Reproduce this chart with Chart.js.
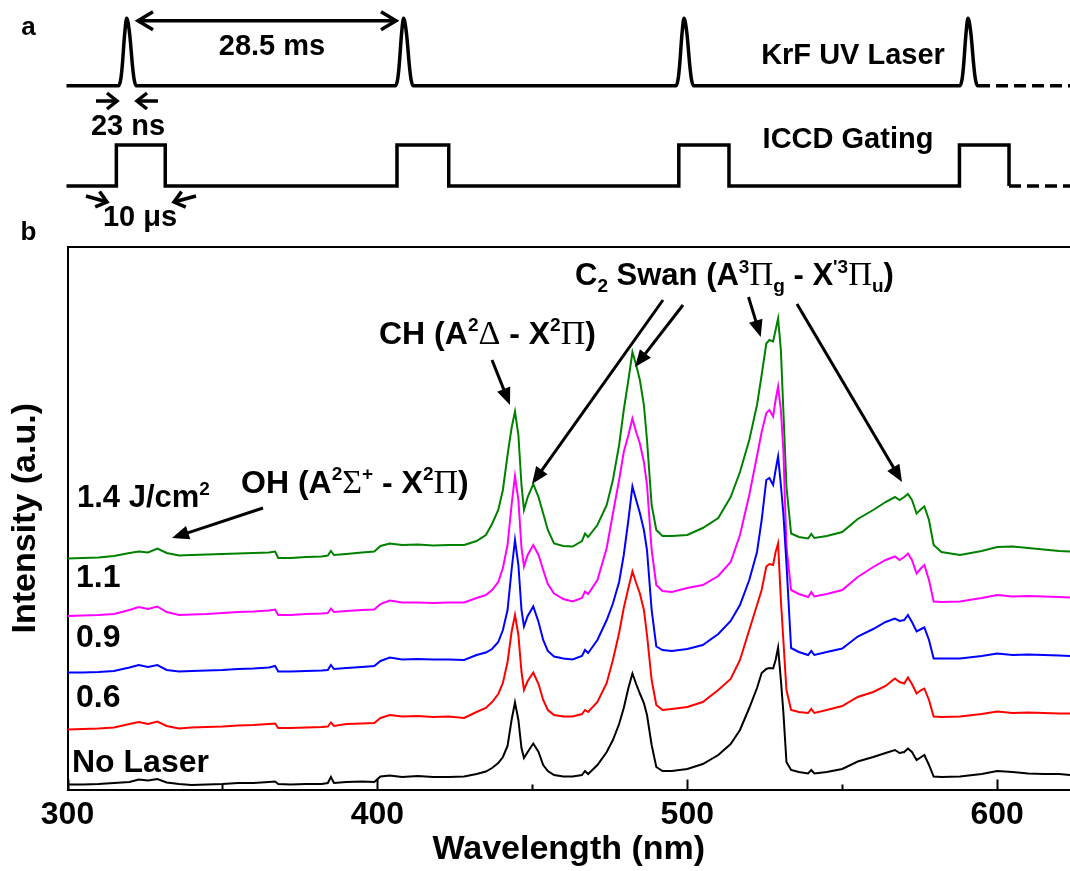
<!DOCTYPE html>
<html>
<head>
<meta charset="utf-8">
<title>Laser timing and emission spectra</title>
<script src="https://cdn.jsdelivr.net/npm/chart.js@4/dist/chart.umd.min.js"></script>
<style>
  html, body { margin: 0; padding: 0; background: #fff; }
  #wrap { position: relative; width: 1070px; height: 871px; }
  #wrap canvas { position: absolute; left: 0; top: 0; }
</style>
</head>
<body>
<div id="wrap">
  <canvas id="spectra" width="1070" height="871"></canvas>
  <canvas id="timing" width="1070" height="247"></canvas>
</div>
<script>
// ---- panel a : timing diagram (ms after first pulse, as drawn in the figure)
const pulseTimes = [0, 28.15, 56.66, 85.53];
const pulseShape = [[-0.8, 0], [-0.6, 0.1], [-0.46, 0.28], [-0.2, 0.78], [0, 1], [0.29, 0.78], [0.6, 0.28], [0.75, 0.1], [0.95, 0]];
const gateOpen = [-1.05, 27.48, 56.13, 84.66];
const gateClose = [3.92, 32.74, 61.23, 89.7];
const traceStart = -6.12, laserSolidEnd = 86.55, traceEnd = 95.9;

// ---- panel b : emission spectra (a.u., stacked as in the figure)
const wavelength = [
  300, 305, 310, 315, 320, 323, 326, 329, 332, 336, 340, 345, 350, 355, 360, 365, 367,
  368, 372, 377, 382, 384, 385, 386, 390, 395, 399,
  401, 404, 408, 413, 418, 423, 428, 432, 435, 437, 439,
  440.5, 442, 443.3, 444.4, 445.5, 446.5, 447.3, 448.5, 450.3, 452, 453.5, 455, 457,
  460, 463, 466, 467, 468, 471, 474, 476, 478, 479.5,
  481, 482.3, 483.5, 484.7, 486, 487, 488.5, 490, 492, 495,
  500, 505, 510, 514, 517, 520, 522.5, 524, 525.5, 526.5,
  527.7, 528.5, 529.3, 530.2, 531, 532, 533.5, 536, 539, 540,
  541, 545, 550, 555, 560, 564, 567, 568.5, 570, 571.2,
  572.5, 574, 575.5, 576.5, 578, 579.5, 582, 588, 595, 600,
  605, 610, 615, 620, 623.5
];
const noLaser = [
  1.0, 1.0, 1.1, 1.3, 1.5, 2.0, 1.8, 2.1, 1.4, 1.1, 0.9, 1.0, 1.1, 1.3, 1.3, 1.5, 1.6,
  1.1, 1.0, 1.1, 1.1, 1.3, 2.5, 1.3, 1.5, 1.6, 1.5,
  2.6, 2.8, 2.5, 2.7, 2.5, 2.5, 2.6, 3.1, 3.6, 4.3, 5.3,
  6.5, 8.7, 13.9, 17.4, 13.9, 8.3, 6.3, 7.5, 9.2, 7.5, 4.9, 3.7, 2.9,
  2.6, 2.6, 2.9, 3.7, 3.1, 4.9, 7.5, 9.9, 13.1, 16.3,
  20.3, 23.2, 21.1, 19.2, 17.3, 14.9, 8.9, 4.5, 3.7, 3.7,
  4.1, 5.1, 6.9, 9.1, 11.9, 16.3, 20.3, 23.3, 24.1, 24.3,
  24.2, 25.9, 28.4, 21.9, 15.5, 5.5, 3.9, 3.5, 3.2, 3.9,
  3.2, 3.5, 4.1, 5.6, 6.5, 7.3, 7.9, 7.3, 7.5, 8.2,
  7.5, 5.9, 6.5, 6.9, 4.9, 2.6, 2.5, 2.6, 3.1, 3.7,
  3.5, 3.2, 3.1, 3.1, 2.9
];
const fluence06 = [
  12.0, 12.1, 12.2, 12.4, 13.1, 13.5, 13.1, 13.6, 12.7, 12.2, 12.4, 12.5, 12.6, 12.8, 12.9, 13.1, 13.2,
  12.3, 12.3, 12.4, 12.5, 12.6, 13.4, 12.7, 13.1, 13.2, 13.3,
  14.3, 14.9, 14.6, 14.7, 14.5, 14.6, 14.3, 15.5, 16.3, 17.5, 19.1,
  21.3, 25.5, 31.5, 34.9, 30.9, 23.5, 19.9, 21.7, 23.4, 21.1, 17.9, 15.9, 14.9,
  14.6, 14.6, 15.1, 15.9, 15.5, 17.5, 21.3, 25.9, 31.3, 36.3,
  40.3, 43.6, 41.3, 39.2, 35.9, 30.9, 21.9, 16.9, 15.9, 16.1,
  16.5, 17.5, 19.9, 22.1, 25.9, 31.9, 36.9, 39.9, 44.6, 45.1,
  44.9, 47.5, 49.2, 37.9, 29.9, 19.9, 15.9, 15.5, 15.3, 16.1,
  15.3, 15.9, 16.7, 18.5, 19.5, 20.7, 22.2, 21.5, 21.2, 22.4,
  21.1, 19.2, 19.9, 20.2, 17.9, 14.6, 14.5, 14.6, 15.1, 15.6,
  15.3, 15.4, 15.3, 15.2, 15.2
];
const fluence09 = [
  23.4, 23.4, 23.5, 23.7, 24.4, 24.9, 24.5, 24.9, 23.9, 23.6, 23.7, 23.8, 23.9, 24.1, 24.2, 24.4, 24.7,
  23.6, 23.6, 23.7, 23.8, 23.9, 24.9, 24.1, 24.3, 24.5, 24.7,
  25.7, 26.4, 26.0, 26.1, 26.0, 26.0, 25.9, 26.9, 27.4, 28.1, 29.5,
  31.9, 35.9, 43.9, 49.9, 44.9, 35.9, 32.6, 34.7, 36.6, 33.5, 29.9, 27.7, 26.6,
  26.2, 26.0, 26.7, 27.9, 27.3, 29.9, 33.9, 37.2, 41.5, 46.9,
  53.9, 60.6, 57.9, 55.3, 51.9, 47.9, 35.9, 28.6, 27.9, 27.7,
  28.1, 28.9, 31.1, 33.7, 36.9, 41.9, 47.5, 53.9, 61.9, 62.3,
  60.9, 63.9, 66.6, 60.9, 55.2, 45.2, 28.3, 27.5, 26.9, 27.7,
  26.9, 27.5, 28.2, 30.6, 32.1, 33.5, 34.2, 33.7, 33.9, 34.9,
  33.5, 31.6, 32.1, 32.4, 29.9, 26.2, 26.2, 26.2, 26.7, 27.2,
  26.9, 27.0, 26.9, 26.8, 26.7
];
const fluence11 = [
  34.7, 34.8, 34.9, 35.1, 35.9, 36.5, 36.1, 36.6, 35.5, 34.9, 35.0, 35.1, 35.3, 35.5, 35.6, 35.8, 36.0,
  34.9, 34.9, 35.1, 35.2, 35.3, 36.2, 35.5, 35.7, 35.9, 36.0,
  37.1, 37.8, 37.4, 37.4, 37.3, 37.4, 37.4, 38.3, 38.9, 39.9, 41.5,
  44.3, 48.9, 56.9, 62.7, 57.9, 48.3, 44.6, 46.9, 48.9, 46.9, 43.9, 41.1, 39.2,
  38.1, 37.6, 38.3, 39.6, 39.1, 41.9, 48.3, 55.2, 61.9, 67.5,
  70.9, 74.2, 71.5, 69.2, 65.5, 60.9, 47.9, 40.9, 39.7, 39.5,
  40.3, 40.9, 42.7, 45.5, 50.9, 58.9, 66.7, 71.5, 75.3, 75.9,
  74.6, 77.9, 80.6, 75.9, 67.9, 48.6, 39.9, 39.1, 38.5, 39.5,
  38.6, 39.1, 39.9, 42.5, 44.5, 45.9, 46.6, 45.9, 46.5, 47.2,
  45.9, 43.2, 44.3, 44.9, 41.9, 37.6, 37.5, 37.6, 38.3, 38.9,
  38.6, 38.7, 38.6, 38.5, 38.4
];
const fluence14 = [
  46.2, 46.3, 46.4, 46.7, 47.3, 47.6, 47.4, 48.2, 47.3, 46.8, 46.9, 47.0, 47.1, 47.2, 47.3, 47.4, 47.6,
  46.3, 46.3, 46.5, 46.6, 46.8, 47.7, 46.9, 47.1, 47.4, 47.6,
  48.7, 49.2, 48.9, 49.0, 48.8, 48.9, 48.9, 49.7, 50.9, 53.1, 55.9,
  59.9, 66.9, 72.3, 75.6, 70.9, 60.9, 55.9, 58.5, 61.1, 58.5, 55.2, 51.9, 49.2,
  48.7, 48.6, 49.7, 51.2, 50.5, 52.9, 56.9, 61.9, 68.9, 75.9,
  81.9, 87.5, 84.9, 81.9, 76.9, 69.9, 56.9, 51.9, 50.7, 50.7,
  50.9, 52.3, 54.3, 58.5, 63.5, 69.9, 76.9, 82.9, 89.2, 89.9,
  89.6, 91.9, 94.2, 87.9, 75.9, 60.6, 51.2, 50.5, 50.2, 51.1,
  50.3, 50.7, 51.5, 54.1, 55.9, 57.5, 58.5, 57.9, 58.5, 59.1,
  57.9, 55.2, 56.1, 56.6, 53.9, 48.9, 47.5, 46.9, 47.7, 48.5,
  48.6, 48.3, 48.0, 47.7, 47.6
];
const seriesLabels = ['No Laser', '0.6', '0.9', '1.1', '1.4 J/cm²'];
const xTickValues = [300, 400, 500, 600];
const xMinorValues = [350, 450, 550];

const SANS = '"Liberation Sans", Arial, sans-serif';
const SERIF = '"Liberation Serif", "Times New Roman", serif';

// draw a line of text with super/subscripts and serif greek letters
function richText(ctx, x, y, size, segs) {
  let cx = x;
  segs.forEach(function(s) {
    const t = s[0], k = s[1];
    let dy = 0;
    if (k === 'g') ctx.font = Math.round(size * 1.05) + 'px ' + SERIF;
    else if (k === 'sup') { ctx.font = 'bold ' + Math.round(size * 0.6) + 'px ' + SANS; dy = -size * 0.4; }
    else if (k === 'sub') { ctx.font = 'bold ' + Math.round(size * 0.6) + 'px ' + SANS; dy = size * 0.22; }
    else ctx.font = 'bold ' + size + 'px ' + SANS;
    ctx.fillText(t, cx, y + dy);
    cx += ctx.measureText(t).width;
  });
}

function arrowFilled(ctx, x1, y1, x2, y2) {
  const L = 17, W = 7;
  const d = Math.hypot(x2 - x1, y2 - y1), ux = (x2 - x1) / d, uy = (y2 - y1) / d;
  const bx = x2 - ux * L, by = y2 - uy * L;
  ctx.lineWidth = 3;
  ctx.beginPath(); ctx.moveTo(x1, y1); ctx.lineTo(bx + ux * 2, by + uy * 2); ctx.stroke();
  ctx.beginPath();
  ctx.moveTo(x2, y2);
  ctx.lineTo(bx - uy * W, by + ux * W);
  ctx.lineTo(bx + uy * W, by - ux * W);
  ctx.closePath(); ctx.fill();
}

function arrowOpen(ctx, x1, y1, x2, y2, L, W) {
  const d = Math.hypot(x2 - x1, y2 - y1), ux = (x2 - x1) / d, uy = (y2 - y1) / d;
  const bx = x2 - ux * L, by = y2 - uy * L;
  ctx.lineWidth = 3.5;
  ctx.beginPath(); ctx.moveTo(x1, y1); ctx.lineTo(x2, y2); ctx.stroke();
  ctx.beginPath();
  ctx.moveTo(bx - uy * W, by + ux * W);
  ctx.lineTo(x2, y2);
  ctx.lineTo(bx + uy * W, by - ux * W);
  ctx.stroke();
}

// ---------------- panel b ----------------
const spectraNotes = {
  id: 'spectraNotes',
  afterDraw(chart) {
    const ctx = chart.ctx, a = chart.chartArea, x = chart.scales.x;
    ctx.save();
    ctx.strokeStyle = '#000'; ctx.fillStyle = '#000'; ctx.lineWidth = 2;
    ctx.beginPath(); ctx.moveTo(a.left, a.top); ctx.lineTo(a.right, a.top); ctx.stroke();
    // inward ticks
    xTickValues.concat(xMinorValues).forEach(function(v) {
      const px = Math.round(x.getPixelForValue(v)) + 0.5;
      const len = xMinorValues.indexOf(v) >= 0 ? 5 : 10;
      ctx.lineWidth = 2;
      ctx.beginPath(); ctx.moveTo(px, a.bottom); ctx.lineTo(px, a.bottom - len); ctx.stroke();
    });
    ctx.textBaseline = 'alphabetic'; ctx.textAlign = 'left';
    richText(ctx, 77, 507, 31, [['1.4 J/cm', 'n'], ['2', 'sup']]);
    ctx.font = 'bold 32px ' + SANS;
    ctx.fillText(seriesLabels[3], 76, 587);
    ctx.fillText(seriesLabels[2], 76, 647);
    ctx.fillText(seriesLabels[1], 76, 707);
    ctx.fillText(seriesLabels[0], 72, 772);
    richText(ctx, 241, 493, 32, [['OH (A', 'n'], ['2', 'sup'], ['Σ', 'g'], ['+', 'sup'], [' - X', 'n'], ['2', 'sup'], ['Π', 'g'], [')', 'n']]);
    richText(ctx, 379, 344, 32, [['CH (A', 'n'], ['2', 'sup'], ['Δ', 'g'], [' - X', 'n'], ['2', 'sup'], ['Π', 'g'], [')', 'n']]);
    richText(ctx, 575, 285, 31, [['C', 'n'], ['2', 'sub'], [' Swan (A', 'n'], ['3', 'sup'], ['Π', 'g'], ['g', 'sub'], [' - X', 'n'], ["'3", 'sup'], ['Π', 'g'], ['u', 'sub'], [')', 'n']]);
    arrowFilled(ctx, 263, 508, 172, 538);
    arrowFilled(ctx, 492, 360, 510, 405);
    arrowFilled(ctx, 663, 300, 532, 484);
    arrowFilled(ctx, 683, 305, 635, 367);
    arrowFilled(ctx, 748.5, 297, 760.7, 337);
    arrowFilled(ctx, 797, 304, 902, 482);
    ctx.restore();
  }
};

const spectra = [noLaser, fluence06, fluence09, fluence11, fluence14];
const lineColors = ['#000000', '#ff0000', '#0000ff', '#ff00ff', '#008000'];

new Chart(document.getElementById('spectra'), {
  type: 'line',
  data: {
    datasets: spectra.map(function(s, i) {
      return {
        label: seriesLabels[i],
        data: s.map(function(v, j) { return { x: wavelength[j], y: v }; }),
        borderColor: lineColors[i],
        borderWidth: 2,
        pointRadius: 0,
        tension: 0
      };
    })
  },
  options: {
    responsive: false,
    devicePixelRatio: 1,
    animation: false,
    layout: { padding: { top: 247, left: 0, right: 0, bottom: 0 } },
    plugins: { legend: { display: false }, tooltip: { enabled: false } },
    scales: {
      x: {
        type: 'linear',
        min: 300,
        max: 623.5,
        afterBuildTicks: function(s) { s.ticks = xTickValues.map(function(v) { return { value: v }; }); },
        afterFit: function(s) { s.height = 81.5; },
        grid: { display: false, drawTicks: false },
        border: { display: true, color: '#000', width: 2 },
        ticks: { color: '#000', padding: 6, maxRotation: 0, font: { family: SANS, size: 32, weight: 'bold' } },
        title: { display: true, text: 'Wavelength (nm)', color: '#000', padding: { top: 0, bottom: 1 }, font: { family: SANS, size: 34, weight: 'bold' } }
      },
      y: {
        min: 0,
        max: 108.5,
        afterFit: function(s) { s.width = 67.5; },
        grid: { display: false, drawTicks: false },
        border: { display: true, color: '#000', width: 2 },
        ticks: { display: false },
        title: { display: true, text: 'Intensity (a.u.)', color: '#000', padding: { top: 5.6, bottom: 0 }, font: { family: SANS, size: 34, weight: 'bold' } }
      }
    }
  },
  plugins: [spectraNotes]
});

// ---------------- panel a ----------------
const laserRow = { base: 16.13, amp: 6.74 };
const gateRow = { base: 6.1, amp: 4.1 };

const laserPts = [{ x: traceStart, y: laserRow.base }];
pulseTimes.forEach(function(t) {
  pulseShape.forEach(function(p) { laserPts.push({ x: t + p[0], y: laserRow.base + p[1] * laserRow.amp }); });
});
laserPts.push({ x: laserSolidEnd, y: laserRow.base });

const gatePts = [{ x: traceStart, y: gateRow.base }];
gateOpen.forEach(function(t, i) {
  gatePts.push({ x: t, y: gateRow.base });
  gatePts.push({ x: t, y: gateRow.base + gateRow.amp });
  gatePts.push({ x: gateClose[i], y: gateRow.base + gateRow.amp });
  gatePts.push({ x: gateClose[i], y: gateRow.base });
});
const gateEnd = gateClose[gateClose.length - 1];

const timingNotes = {
  id: 'timingNotes',
  afterDraw(chart) {
    const ctx = chart.ctx;
    ctx.save();
    ctx.strokeStyle = '#000'; ctx.fillStyle = '#000';
    ctx.lineCap = 'butt'; ctx.lineJoin = 'miter';
    arrowOpen(ctx, 267, 20.7, 138, 20.7, 15, 9);
    arrowOpen(ctx, 267, 20.7, 396, 20.7, 15, 9);
    arrowOpen(ctx, 96, 101, 117, 101, 10, 8);
    arrowOpen(ctx, 158, 101, 137, 101, 10, 8);
    arrowOpen(ctx, 86, 196, 107, 202, 10, 8);
    arrowOpen(ctx, 196, 196, 174, 202, 10, 8);
    ctx.textAlign = 'center'; ctx.textBaseline = 'alphabetic';
    ctx.font = 'bold 29px ' + SANS;
    ctx.fillText('28.5 ms', 272, 55);
    ctx.fillText('23 ns', 128, 135);
    ctx.fillText('10 μs', 140, 226);
    ctx.fillText('KrF UV Laser', 853, 64);
    ctx.fillText('ICCD Gating', 848, 148);
    ctx.font = 'bold 26px ' + SANS;
    ctx.fillText('a', 28.5, 35);
    ctx.fillText('b', 28.5, 240);
    ctx.restore();
  }
};

new Chart(document.getElementById('timing'), {
  type: 'line',
  data: {
    datasets: [
      { data: laserPts, borderColor: '#000', borderWidth: 3.5, pointRadius: 0, cubicInterpolationMode: 'monotone' },
      { data: [{ x: laserSolidEnd, y: laserRow.base }, { x: traceEnd, y: laserRow.base }], borderColor: '#000', borderWidth: 3.5, pointRadius: 0, borderDash: [12, 6] },
      { data: gatePts, borderColor: '#000', borderWidth: 3.5, pointRadius: 0, tension: 0 },
      { data: [{ x: gateEnd, y: gateRow.base }, { x: traceEnd, y: gateRow.base }], borderColor: '#000', borderWidth: 3.5, pointRadius: 0, borderDash: [12, 6] }
    ]
  },
  options: {
    responsive: false,
    devicePixelRatio: 1,
    animation: false,
    layout: { padding: 0 },
    plugins: { legend: { display: false }, tooltip: { enabled: false } },
    scales: {
      x: { type: 'linear', min: -12.88, max: 95.9, display: false },
      y: { min: 0, max: 24.7, display: false }
    }
  },
  plugins: [timingNotes]
});
</script>
</body>
</html>
